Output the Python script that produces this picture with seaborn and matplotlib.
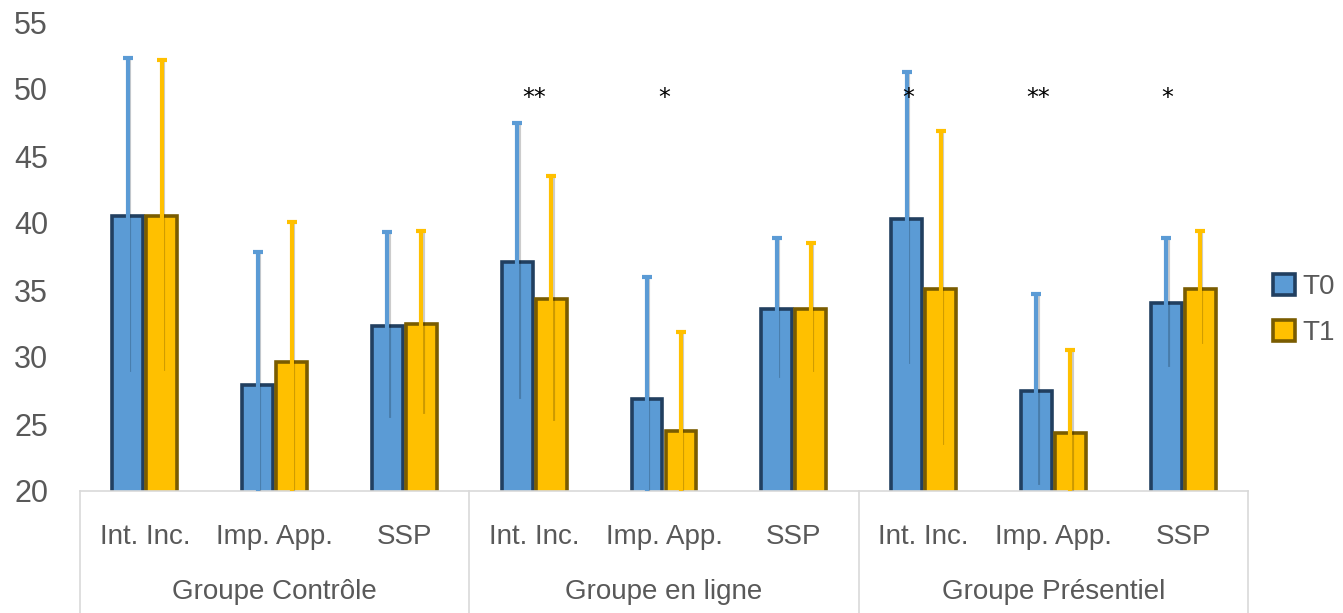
import pandas as pd
import seaborn as sns
import matplotlib.pyplot as plt
import matplotlib.patheffects as pe
from matplotlib.patches import Patch
from matplotlib.transforms import blended_transform_factory

groups = ["Groupe Contrôle", "Groupe en ligne", "Groupe Présentiel"]
measures = ["Int. Inc.", "Imp. App.", "SSP"]
times = ["T0", "T1"]

t0_mean = [40.5, 27.9, 32.3, 37.1, 26.9, 33.6, 40.3, 27.5, 34.0]
t0_sd = [11.8, 9.9, 7.0, 10.4, 9.1, 5.3, 11.0, 7.2, 4.9]
t1_mean = [40.5, 29.6, 32.5, 34.3, 24.5, 33.6, 35.1, 24.3, 35.1]
t1_sd = [11.7, 10.5, 6.9, 9.2, 7.4, 4.9, 11.8, 6.2, 4.3]

# significance marks: (group, measure, stars)
stars = [("Groupe en ligne", "Int. Inc.", "**"),
         ("Groupe en ligne", "Imp. App.", "*"),
         ("Groupe Présentiel", "Int. Inc.", "*"),
         ("Groupe Présentiel", "Imp. App.", "**"),
         ("Groupe Présentiel", "SSP", "*")]
star_y = 49.3

fill = {"T0": "#5B9BD5", "T1": "#FFC000"}
edge = {"T0": "#213F60", "T1": "#7A5C00"}
grey = "#595959"

plt.rcParams["font.family"] = ["Liberation Sans", "DejaVu Sans"]

cats = [g + "|" + m for g in groups for m in measures]
rows = []
for i, c in enumerate(cats):
    rows.append({"cat": c, "time": "T0", "mean": t0_mean[i], "sd": t0_sd[i]})
    rows.append({"cat": c, "time": "T1", "mean": t1_mean[i], "sd": t1_sd[i]})
data = pd.DataFrame(rows)

fig = plt.figure(figsize=(13.43, 6.13), dpi=100)
ax = fig.add_axes([80 / 1343, 122 / 613, 1168 / 1343, 469 / 613])

sns.barplot(data=data, x="cat", y="mean", hue="time", order=cats, hue_order=times,
            palette=fill, errorbar=None, width=0.523, gap=0.09, saturation=1,
            linewidth=2.6, ax=ax)

shadow = [pe.SimpleLineShadow(offset=(1, -1), alpha=0.2), pe.Normal()]
for cont, t in zip(ax.containers, times):
    sub = data[data["time"] == t].set_index("cat").loc[cats]
    xs = []
    for bar in cont:
        bar.set_edgecolor(edge[t])
        bar.set_linewidth(2.6)
        xs.append(bar.get_x() + bar.get_width() / 2)
    eb = ax.errorbar(xs, sub["mean"].values, yerr=sub["sd"].values, fmt="none",
                     ecolor=fill[t], elinewidth=3, capsize=3.5, capthick=3, zorder=3)
    for art in eb[2]:
        art.set_path_effects(shadow)

for g, m, s in stars:
    i = cats.index(g + "|" + m)
    dx = -0.12 if g == "Groupe Présentiel" else 0
    ax.text(i + dx, star_y, s, ha="center", va="center", fontsize=17, color="black",
            family="DejaVu Sans")

ax.set_ylim(20, 55)
ax.set_xlim(-0.5, len(cats) - 0.5)
ax.set_yticks(range(20, 56, 5))
ax.set_xticks(range(len(cats)))
ax.set_xticklabels(measures * len(groups))
ax.tick_params(axis="both", length=0, colors=grey)
ax.tick_params(axis="x", labelsize=20, pad=24)
ax.tick_params(axis="y", labelsize=22, pad=23)
ax.set_xlabel("")
ax.set_ylabel("")
for sp in ["top", "right", "left"]:
    ax.spines[sp].set_visible(False)
ax.spines["bottom"].set_color("#D9D9D9")
ax.spines["bottom"].set_linewidth(1.2)

tr = blended_transform_factory(ax.transData, ax.transAxes)
for k, g in enumerate(groups):
    ax.text(3 * k + 1, -0.215, g, transform=tr, ha="center", va="center",
            fontsize=20, color=grey)
for k in range(len(groups) + 1):
    ax.plot([3 * k - 0.5, 3 * k - 0.5], [0, -0.27], transform=tr, color="#D9D9D9",
            lw=1.2, clip_on=False)

ax.get_legend().remove()
handles = [Patch(facecolor=fill[t], edgecolor=edge[t], linewidth=2.6, label=t) for t in times]
fig.legend(handles=handles, loc="center left", bbox_to_anchor=(1262 / 1343, 1 - 310 / 613),
           frameon=False, fontsize=20, handlelength=0.8, handleheight=0.8,
           handletextpad=0.25, labelspacing=0.7, labelcolor=grey, borderaxespad=0)

fig.savefig("out.png", dpi=100)
